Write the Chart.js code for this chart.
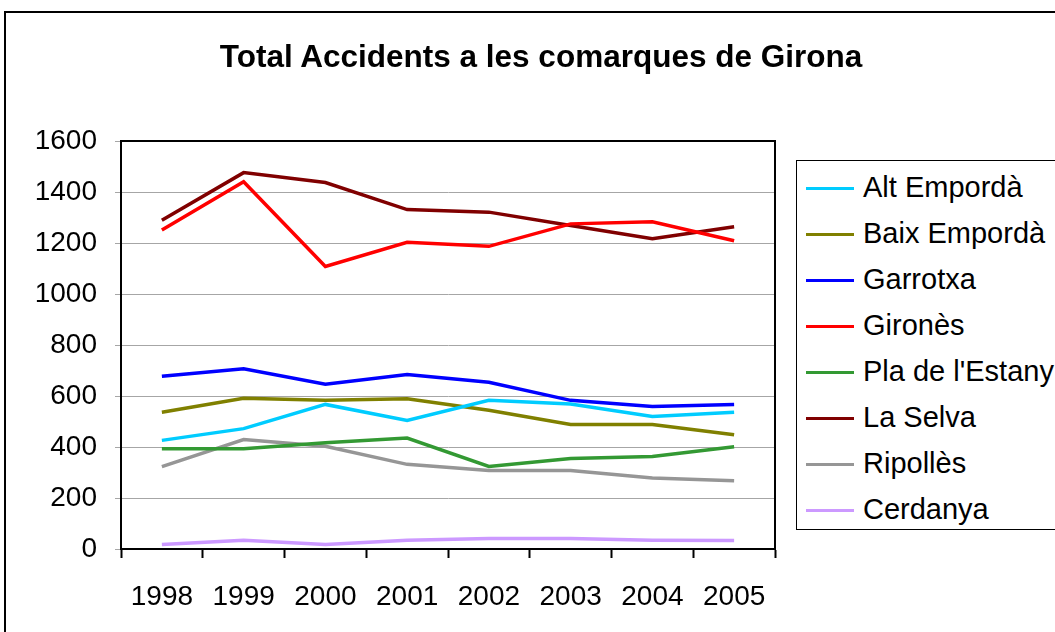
<!DOCTYPE html>
<html>
<head>
<meta charset="utf-8">
<script src="https://cdn.jsdelivr.net/npm/chart.js@4.4.1/dist/chart.umd.min.js"></script>
<style>
  html, body { margin: 0; padding: 0; background: #fff; overflow: hidden; }
  #wrap { position: relative; width: 1055px; height: 632px; font-family: "Liberation Sans", Arial, sans-serif; }
  #frame { position: absolute; left: 4px; top: 11px; width: 1100px; height: 700px; border: 2px solid #000; box-sizing: border-box; }
  #title { position: absolute; left: 0; width: 1082px; top: 38px; text-align: center; font-weight: bold; font-size: 31.5px; color: #000; }
  #legend { position: absolute; left: 796px; top: 160px; width: 300px; height: 370px; border: 1px solid #000; box-sizing: border-box; background: #fff; }
  .item { position: absolute; left: 9px; height: 30px; font-size: 29px; line-height: 30px; white-space: nowrap; color: #000; }
  .item span.ln { display: inline-block; width: 48px; height: 3px; vertical-align: middle; margin-right: 9px; position: relative; top: -1px; }
  canvas { position: absolute; left: 0; top: 0; }
</style>
</head>
<body>
<div id="wrap">
  <div id="frame"></div>
  <canvas id="myChart" width="1055" height="632"></canvas>
  <div id="title">Total Accidents a les comarques de Girona</div>
  <div id="legend"></div>
</div>
<script>
// data
const years = ['1998', '1999', '2000', '2001', '2002', '2003', '2004', '2005'];
const yTicks = [0, 200, 400, 600, 800, 1000, 1200, 1400, 1600];

const altEmporda  = [426, 472, 567, 504, 583, 569, 520, 536];
const baixEmporda = [536, 591, 583, 589, 544, 488, 488, 448];
const garrotxa    = [677, 707, 646, 684, 654, 583, 559, 567];
const girones     = [1251, 1440, 1108, 1203, 1187, 1275, 1283, 1209];
const plaEstany   = [393, 393, 417, 435, 324, 355, 363, 401];
const laSelva     = [1289, 1476, 1437, 1331, 1321, 1269, 1217, 1264];
const ripolles    = [323, 429, 403, 332, 308, 308, 278, 268];
const cerdanya    = [18, 34, 18, 34, 41, 41, 34, 33];

const seriesNames = ['Alt Empordà', 'Baix Empordà', 'Garrotxa', 'Gironès', "Pla de l'Estany", 'La Selva', 'Ripollès', 'Cerdanya'];
const seriesData = [altEmporda, baixEmporda, garrotxa, girones, plaEstany, laSelva, ripolles, cerdanya];
const seriesColors = ['#00CCFF', '#808000', '#0000FF', '#FF0000', '#339933', '#800000', '#969696', '#CC99FF'];

const datasets = seriesNames.map((name, i) => ({
    label: name,
    data: seriesData[i],
    borderColor: seriesColors[i],
    backgroundColor: seriesColors[i],
    borderWidth: 3.5,
    pointRadius: 0,
    tension: 0,
    fill: false
}));

// html legend
const legend = document.getElementById('legend');
seriesNames.forEach((name, i) => {
    const div = document.createElement('div');
    div.className = 'item';
    div.style.top = (11 + i * 46) + 'px';
    div.innerHTML = '<span class="ln" style="background:' + seriesColors[i] + '"></span>' + name;
    legend.appendChild(div);
});

// frame around plot area
const plotBorder = {
    id: 'plotBorder',
    afterDraw(chart) {
        const a = chart.chartArea;
        const ctx = chart.ctx;
        ctx.save();
        ctx.strokeStyle = '#000';
        ctx.lineWidth = 2;
        ctx.strokeRect(a.left, a.top, a.right - a.left, a.bottom - a.top);
        ctx.restore();
    }
};

const ctx = document.getElementById('myChart').getContext('2d');
const myChart = new Chart(ctx, {
    type: 'line',
    data: { labels: years, datasets: datasets },
    options: {
        responsive: false,
        animation: false,
        layout: { padding: { left: 0, top: 141, right: 280, bottom: 0 } },
        plugins: { legend: { display: false }, title: { display: false }, tooltip: { enabled: false } },
        scales: {
            x: {
                offset: true,
                grid: { offset: true, drawOnChartArea: false, drawTicks: true, tickLength: 9, color: '#000', tickWidth: 2 },
                border: { color: '#000', width: 2 },
                ticks: { color: '#000', font: { family: 'Liberation Sans', size: 28 }, padding: 22, maxRotation: 0 },
                afterFit(scale) { scale.height = 83; }
            },
            y: {
                min: 0,
                max: 1600,
                afterBuildTicks(scale) { scale.ticks = yTicks.map(v => ({ value: v })); },
                grid: { color: '#A6A6A6', lineWidth: 1, tickLength: 6, drawTicks: true },
                border: { color: '#000', width: 2 },
                ticks: { color: '#000', font: { family: 'Liberation Sans', size: 28 }, padding: 18, callback: v => String(v) },
                afterFit(scale) { scale.width = 121; }
            }
        }
    },
    plugins: [plotBorder]
});
</script>
</body>
</html>
